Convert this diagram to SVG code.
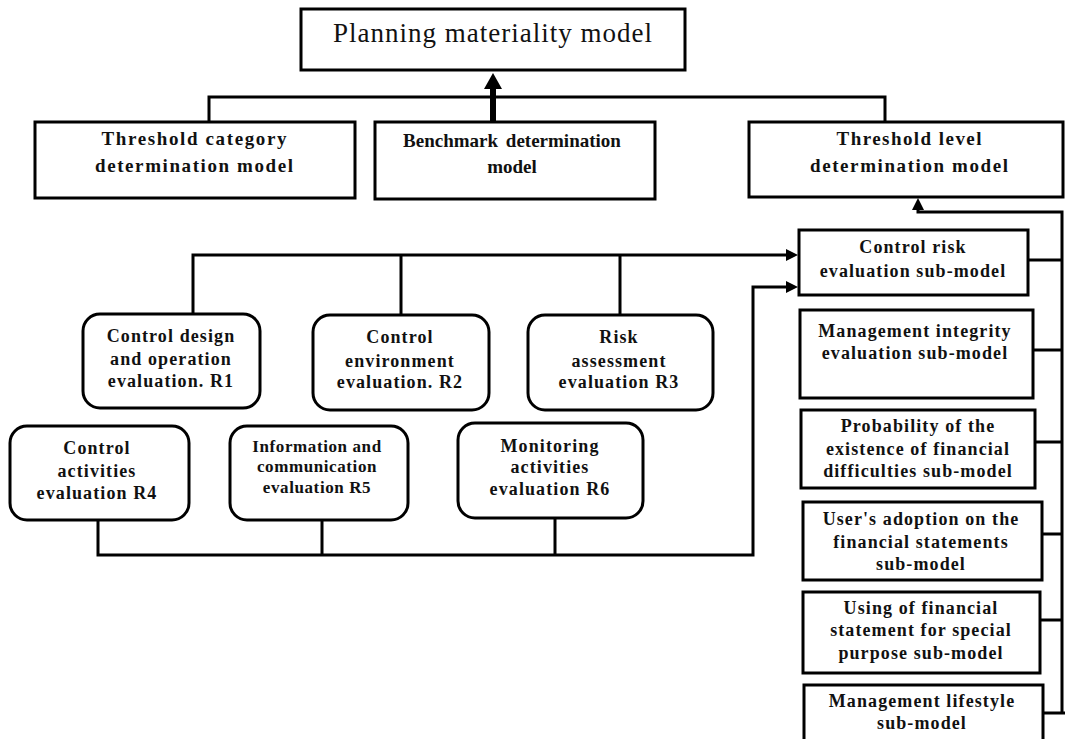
<svg xmlns="http://www.w3.org/2000/svg" width="1065" height="739" viewBox="0 0 1065 739">
<defs>
<style>
.box{fill:#fff;stroke:#000;stroke-width:3}
.rbox{fill:#fff;stroke:#000;stroke-width:3}
.ln{fill:none;stroke:#000;stroke-width:3}
text{font-family:"Liberation Serif","Times New Roman",serif;fill:#111;text-anchor:middle}
.h{font-size:19px;font-weight:bold}
.s{font-size:18px;font-weight:bold;letter-spacing:1.1px}
.s2{font-size:17px;font-weight:bold;letter-spacing:0.6px}
.t{font-size:27px;letter-spacing:1px}
</style>
<marker id="ah" viewBox="0 0 12 12" refX="0" refY="6" markerWidth="12" markerHeight="12" markerUnits="userSpaceOnUse" orient="auto"><path d="M0,0 L12,6 L0,12 z" fill="#000"/></marker>
<marker id="ahb" viewBox="0 0 16 18" refX="0" refY="9" markerWidth="16" markerHeight="18" markerUnits="userSpaceOnUse" orient="auto"><path d="M0,0 L16,9 L0,18 z" fill="#000"/></marker>
</defs>
<rect width="1065" height="739" fill="#fff"/>
<g id="connectors">
<path class="ln" d="M209,122 V97 H885 V122"/>
<path d="M493,122 V89" fill="none" stroke="#000" stroke-width="6" marker-end="url(#ahb)"/>
<path class="ln" d="M1028,260 H1062 M1033,350 H1062 M1035,442 H1062 M1042,534 H1062 M1040,620 H1062 M1043,713 H1065"/>
<path class="ln" d="M1062,713 V212 H918 V210" marker-end="url(#ah)"/>
<path class="ln" d="M193,314 V255 H786" marker-end="url(#ah)"/>
<path class="ln" d="M401,315 V255 M620,315 V255"/>
<path class="ln" d="M98,520 V555 H753 V287 H786" marker-end="url(#ah)"/>
<path class="ln" d="M322,520 V555 M555,518 V555"/>
</g>
<g id="planning">
<rect class="box" x="301" y="9" width="384" height="61"/>
<text class="t" x="493" y="42">Planning materiality model</text>
</g>
<g id="threshold-category">
<rect class="box" x="35" y="122" width="320" height="76"/>
<text class="h" x="194" y="145" textLength="185" lengthAdjust="spacing">Threshold category</text>
<text class="h" x="194" y="172" textLength="198" lengthAdjust="spacing">determination model</text>
</g>
<g id="benchmark">
<rect class="box" x="375" y="122" width="280" height="77"/>
<text class="h" x="512" y="147" word-spacing="3">Benchmark determination</text>
<text class="h" x="512" y="173">model</text>
</g>
<g id="threshold-level">
<rect class="box" x="749" y="122" width="314" height="75"/>
<text class="h" x="909" y="145" textLength="145" lengthAdjust="spacing">Threshold level</text>
<text class="h" x="909" y="172" textLength="198" lengthAdjust="spacing">determination model</text>
</g>
<g id="control-risk">
<rect class="box" x="799" y="230" width="229" height="65"/>
<text class="s" x="913" y="253">Control risk</text>
<text class="s" x="913" y="277">evaluation sub-model</text>
</g>
<g id="management-integrity">
<rect class="box" x="800" y="310" width="233" height="88"/>
<text class="s" x="915" y="337">Management integrity</text>
<text class="s" x="915" y="359">evaluation sub-model</text>
</g>
<g id="probability">
<rect class="box" x="801" y="410" width="234" height="78"/>
<text class="s" x="918" y="432">Probability of the</text>
<text class="s" x="918" y="455">existence of financial</text>
<text class="s" x="918" y="477">difficulties sub-model</text>
</g>
<g id="users-adoption">
<rect class="box" x="803" y="502" width="239" height="78"/>
<text class="s" x="921" y="525">User's adoption on the</text>
<text class="s" x="921" y="548">financial statements</text>
<text class="s" x="921" y="570">sub-model</text>
</g>
<g id="special-purpose">
<rect class="box" x="803" y="592" width="237" height="81"/>
<text class="s" x="921" y="614">Using of financial</text>
<text class="s" x="921" y="636">statement for special</text>
<text class="s" x="921" y="659">purpose sub-model</text>
</g>
<g id="management-lifestyle">
<rect class="box" x="804" y="685" width="239" height="70"/>
<text class="s" x="922" y="707">Management lifestyle</text>
<text class="s" x="922" y="729">sub-model</text>
</g>
<g id="r1">
<rect class="rbox" x="83" y="314" width="177" height="94" rx="17"/>
<text class="s" x="171" y="342">Control design</text>
<text class="s" x="171" y="365">and operation</text>
<text class="s" x="171" y="387">evaluation. R1</text>
</g>
<g id="r2">
<rect class="rbox" x="313" y="315" width="176" height="95" rx="17"/>
<text class="s" x="400" y="343">Control</text>
<text class="s" x="400" y="367">environment</text>
<text class="s" x="400" y="388">evaluation. R2</text>
</g>
<g id="r3">
<rect class="rbox" x="528" y="315" width="185" height="95" rx="17"/>
<text class="s" x="619" y="343">Risk</text>
<text class="s" x="619" y="367">assessment</text>
<text class="s" x="619" y="388">evaluation R3</text>
</g>
<g id="r4">
<rect class="rbox" x="10" y="426" width="179" height="94" rx="17"/>
<text class="s" x="97" y="454">Control</text>
<text class="s" x="97" y="477">activities</text>
<text class="s" x="97" y="499">evaluation R4</text>
</g>
<g id="r5">
<rect class="rbox" x="230" y="426" width="178" height="94" rx="17"/>
<text class="s2" x="317" y="452">Information and</text>
<text class="s2" x="317" y="472">communication</text>
<text class="s2" x="317" y="493">evaluation R5</text>
</g>
<g id="r6">
<rect class="rbox" x="458" y="423" width="185" height="95" rx="17"/>
<text class="s" x="550" y="452">Monitoring</text>
<text class="s" x="550" y="473">activities</text>
<text class="s" x="550" y="495">evaluation R6</text>
</g>
</svg>
